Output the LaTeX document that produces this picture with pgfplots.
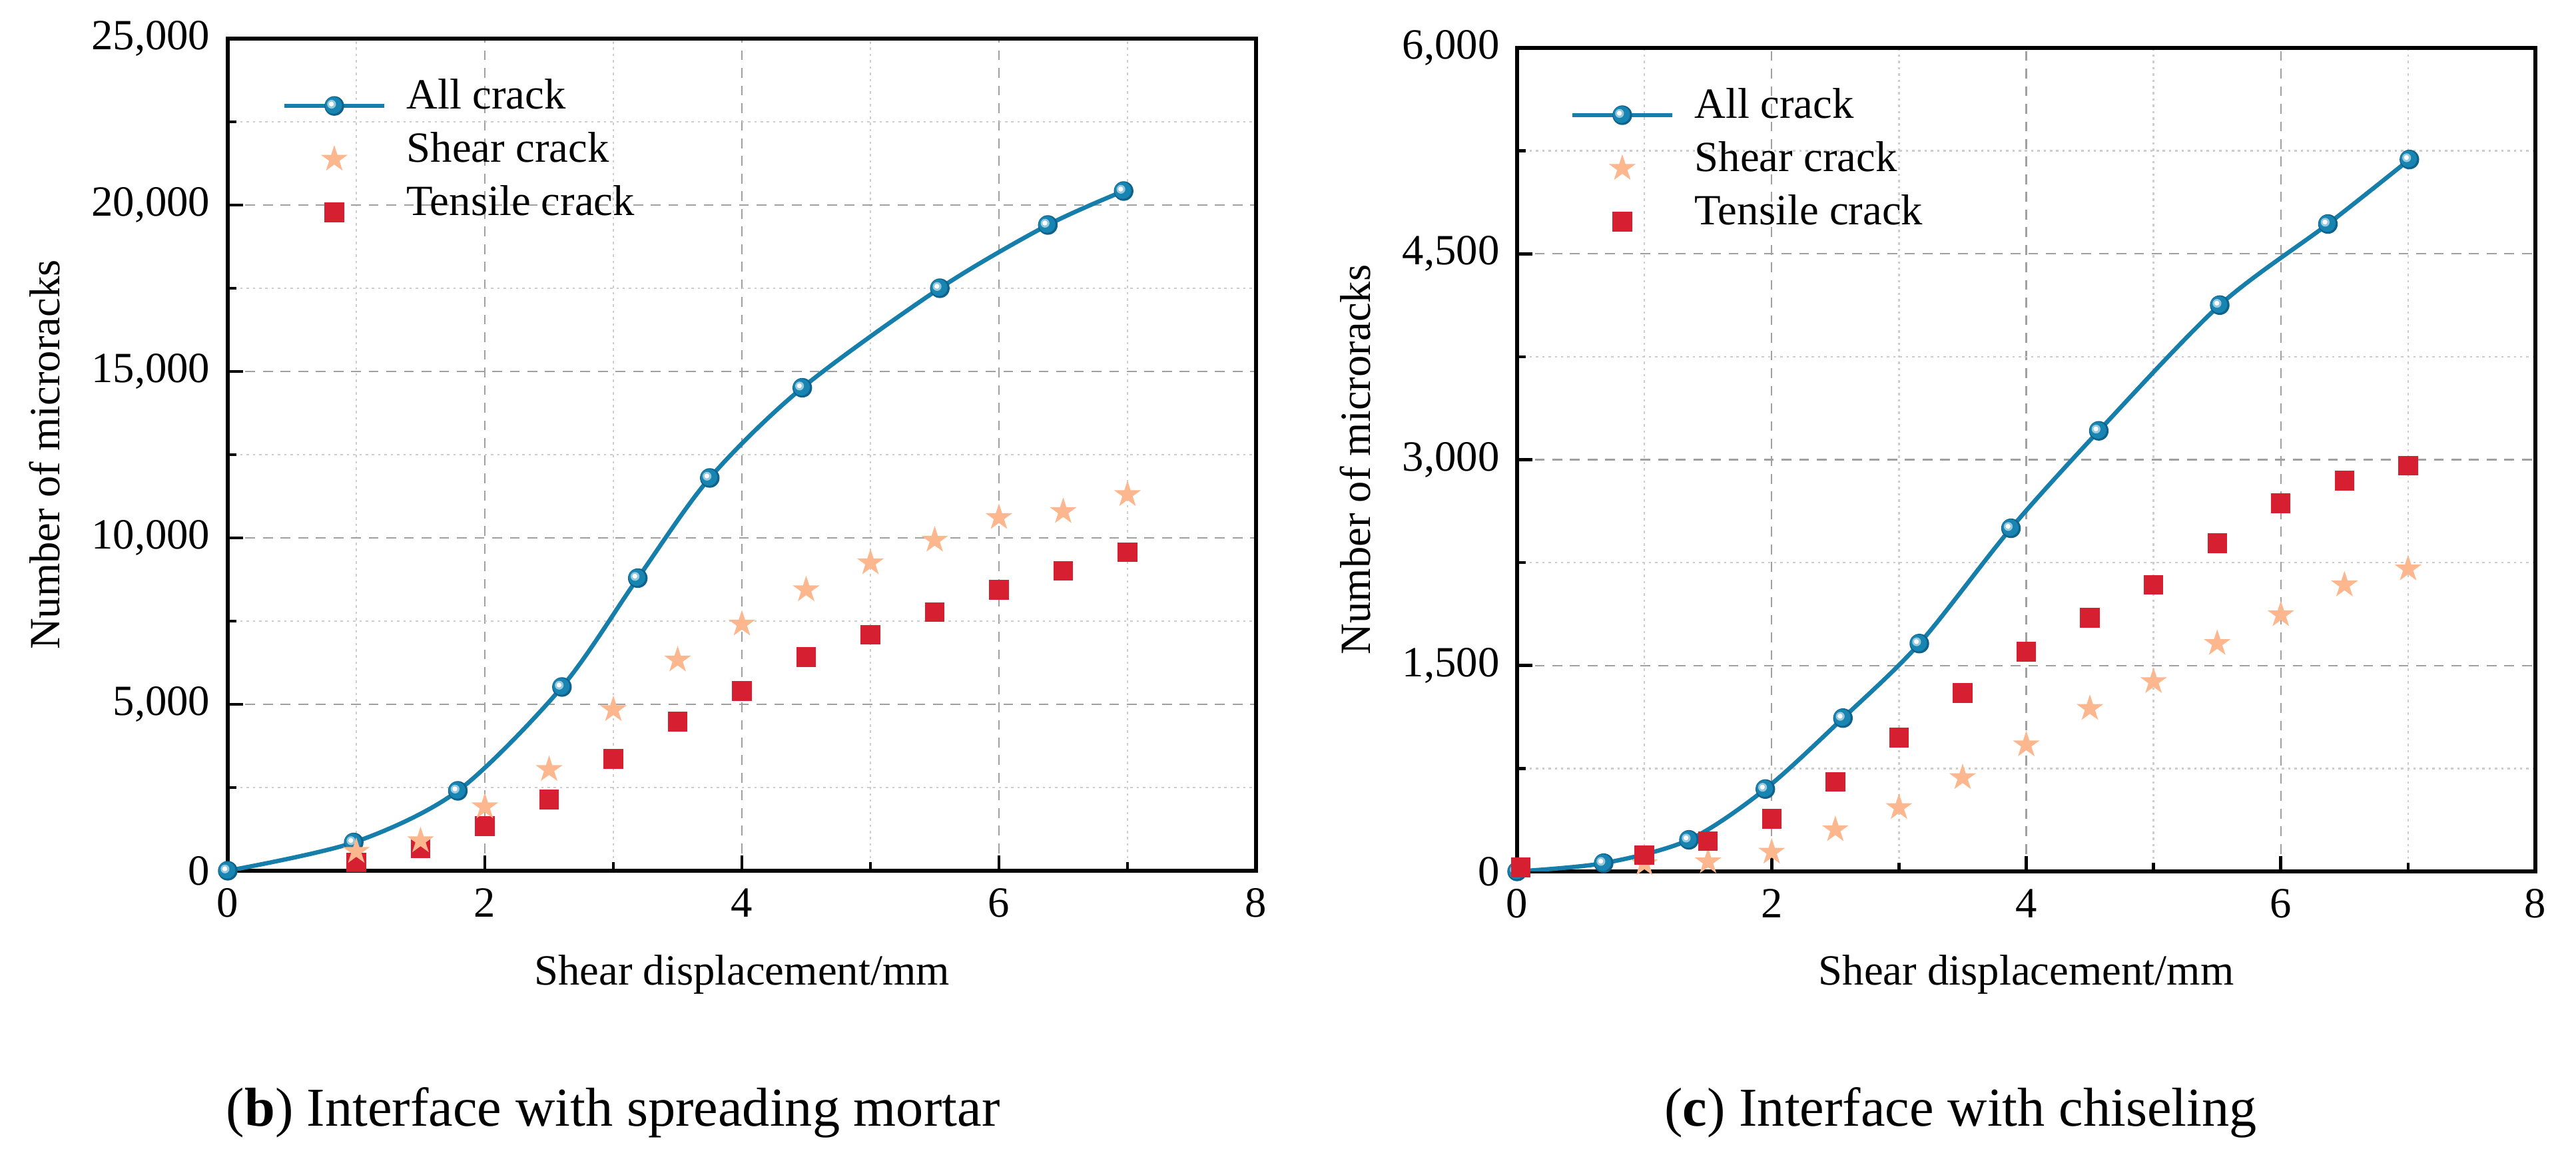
\documentclass[border=0pt]{standalone}
\usepackage{pgfplots}
\pgfplotsset{compat=1.18}
\usepackage{fontspec}
\setmainfont{Liberation Serif}
\definecolor{cblue}{RGB}{22,126,170}
\definecolor{ballc}{RGB}{24,132,178}
\definecolor{balld}{RGB}{14,98,140}
\definecolor{cpeach}{RGB}{253,183,143}
\definecolor{cred}{RGB}{214,32,50}
\definecolor{gmaj}{RGB}{160,160,160}
\definecolor{gmin}{RGB}{205,205,205}
\pgfdeclareplotmark{myball}{%
  \pgfsetfillcolor{balld}%
  \pgfpathcircle{\pgfpointorigin}{\pgfplotmarksize}\pgfusepath{fill}%
  \pgfsetfillcolor{ballc}%
  \pgfpathcircle{\pgfpoint{-0.08\pgfplotmarksize}{0.06\pgfplotmarksize}}{0.86\pgfplotmarksize}\pgfusepath{fill}%
  \pgfsetfillcolor{ballc!45!white}%
  \pgfpathcircle{\pgfpoint{-0.28\pgfplotmarksize}{0.18\pgfplotmarksize}}{0.45\pgfplotmarksize}\pgfusepath{fill}%
  \pgfsetfillcolor{white}%
  \pgfpathcircle{\pgfpoint{-0.3\pgfplotmarksize}{0.2\pgfplotmarksize}}{0.25\pgfplotmarksize}\pgfusepath{fill}}
\pgfdeclareplotmark{fstar}{%
  \pgfpathmoveto{\pgfpointpolar{90}{\pgfplotmarksize}}%
  \pgfpathlineto{\pgfpointpolar{126}{0.382\pgfplotmarksize}}%
  \pgfpathlineto{\pgfpointpolar{162}{\pgfplotmarksize}}%
  \pgfpathlineto{\pgfpointpolar{198}{0.382\pgfplotmarksize}}%
  \pgfpathlineto{\pgfpointpolar{234}{\pgfplotmarksize}}%
  \pgfpathlineto{\pgfpointpolar{270}{0.382\pgfplotmarksize}}%
  \pgfpathlineto{\pgfpointpolar{306}{\pgfplotmarksize}}%
  \pgfpathlineto{\pgfpointpolar{342}{0.382\pgfplotmarksize}}%
  \pgfpathlineto{\pgfpointpolar{18}{\pgfplotmarksize}}%
  \pgfpathlineto{\pgfpointpolar{54}{0.382\pgfplotmarksize}}%
  \pgfpathclose\pgfusepathqfill}
\pgfplotsset{
  myaxis/.style={
    scale only axis,
    xmin=0,xmax=8,xtick={0,2,4,6,8},minor x tick num=1,minor y tick num=1,
    grid=both,
    major grid style={gmaj, dash pattern=on 2.5pt off 2pt, line width=0.4pt},
    minor grid style={gmin, dash pattern=on 0.6pt off 1pt, line width=0.4pt},
    tick align=inside, tick pos=left,
    major tick length=3.9pt, minor tick length=2.2pt,
    major tick style={black, line width=0.8pt},
    minor tick style={black, line width=0.8pt},
    axis line style={line width=1pt},
    font=\fontsize{11}{13.6}\selectfont,
    /pgf/number format/assume math mode=true,
    scaled y ticks=false,
    yticklabel style={/pgf/number format/1000 sep={,}, xshift=-1pt},
    xticklabel style={yshift=-1pt},
    xlabel={Shear displacement/mm},
    ylabel={Number of microracks},
    x label style={at={(axis description cs:0.5,-0.125)}, anchor=center},
    legend cell align=left,
    legend image code/.code={\draw[mark repeat=2,mark phase=2] plot coordinates {(0cm,0cm) (0.445cm,0cm) (0.89cm,0cm)};},
    legend style={draw=none, fill=none, anchor=north west, inner sep=0pt, column sep=5.3pt,
      nodes={inner sep=0pt, text height=7.5pt, text depth=6.1pt}},
  },
  allst/.style={cblue, line width=1.1pt, smooth, mark=myball, mark size=2.5pt},
  shst/.style={only marks, mark=fstar, mark size=3.6pt, color=cpeach},
  tnst/.style={only marks, mark=square*, mark size=2.3pt, color=cred},
}
\begin{document}
\begin{tikzpicture}
\path[use as bounding box] (0,0) rectangle (657.56pt,296.48pt);
% ---------- (b) ----------
\begin{axis}[myaxis,
  at={(58.14pt,74.12pt)}, anchor=south west,
  width=262.48pt, height=212.5pt,
  ymin=0, ymax=25000, ytick={0,5000,10000,15000,20000,25000},
  y label style={at={(axis description cs:-0.178,0.5)}, anchor=center},
  legend style={at={(axis description cs:0.0525,0.952)}},
]
\addlegendimage{allst}
\addlegendentry{All crack}
\addlegendimage{shst}
\addlegendentry{Shear crack}
\addlegendimage{tnst}
\addlegendentry{Tensile crack}
\addplot[allst, forget plot] coordinates {(0,0) (0.98,850) (1.79,2400) (2.6,5520) (3.19,8790) (3.75,11800) (4.47,14510) (5.54,17500) (6.38,19400) (6.97,20420)};
\addplot[tnst, forget plot] coordinates {(1,250) (1.5,680) (2,1340) (2.5,2140) (3,3360) (3.5,4480) (4,5400) (4.5,6420) (5,7090) (5.5,7770) (6,8440) (6.5,9010) (7,9570)};
\addplot[shst, forget plot] coordinates {(1,580) (1.5,900) (2,1920) (2.5,3040) (3,4840) (3.5,6330) (4,7410) (4.5,8440) (5,9250) (5.5,9930) (6,10610) (6.5,10790) (7,11300)};
\end{axis}
% ---------- (c) ----------
\begin{axis}[myaxis,
  at={(387.26pt,73.95pt)}, anchor=south west,
  width=259.93pt, height=210.29pt,
  ymin=0, ymax=6000, ytick={0,1500,3000,4500,6000},
  y label style={at={(axis description cs:-0.159,0.5)}, anchor=center},
  legend style={at={(axis description cs:0.0517,0.9516)}},
]
\addlegendimage{allst}
\addlegendentry{All crack}
\addlegendimage{shst}
\addlegendentry{Shear crack}
\addlegendimage{tnst}
\addlegendentry{Tensile crack}
\addplot[allst, forget plot] coordinates {(0,0) (0.68,60) (1.35,230) (1.95,600) (2.56,1117) (3.16,1660) (3.88,2500) (4.57,3210) (5.52,4126) (6.37,4717) (7.01,5187)};
\addplot[shst, forget plot] coordinates {(1,55) (1.5,70) (2,140) (2.5,304) (3,465) (3.5,683) (4,922) (4.5,1187) (5,1383) (5.5,1661) (6,1870) (6.5,2087) (7,2204)};
\addplot[tnst, forget plot] coordinates {(0.03,30) (1,120) (1.5,220) (2,383) (2.5,652) (3,974) (3.5,1300) (4,1600) (4.5,1848) (5,2087) (5.5,2391) (6,2683) (6.5,2848) (7,2957)};
\end{axis}
\node[font=\fontsize{14}{16}\selectfont] at (156.5pt,12.4pt) {(\textbf{b}) Interface with spreading mortar};
\node[font=\fontsize{14}{16}\selectfont] at (500.5pt,12.4pt) {(\textbf{c}) Interface with chiseling};
\end{tikzpicture}
\end{document}
